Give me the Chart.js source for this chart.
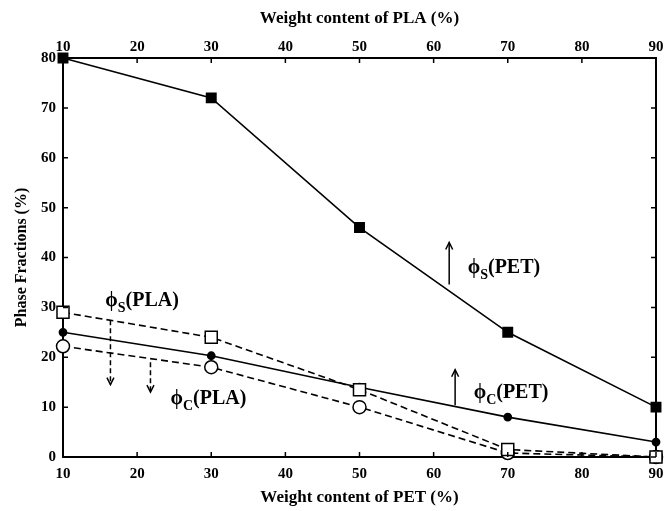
<!DOCTYPE html>
<html><head><meta charset="utf-8">
<script src="https://cdn.jsdelivr.net/npm/chart.js@4/dist/chart.umd.min.js"></script>
<style>html,body{margin:0;padding:0;background:#fff}#wrap{width:666px;height:511px}</style>
</head><body><div id="wrap"><canvas id="c" width="666" height="511"></canvas></div>
<script>
const xValues = [10, 30, 50, 70, 90];
const phiS_PET = [80, 72, 46, 25, 10];
const phiC_PET = [25, 20.3, 14, 8, 3];
const phiS_PLA = [29, 24, 13.5, 1.5, 0];
const phiC_PLA = [22.2, 18, 10, 0.8, 0];
const xTicks = [10, 20, 30, 40, 50, 60, 70, 80, 90];
const yTicks = [0, 10, 20, 30, 40, 50, 60, 70, 80];
// annotation labels: [x, y(baseline), sub, rest]
const labels = [
  [64.6, 36.9, 'S', '(PET)'],
  [65.4, 11.8, 'C', '(PET)'],
  [15.7, 30.3, 'S', '(PLA)'],
  [24.5, 10.7, 'C', '(PLA)']
];
// arrows: [x, yFrom, yTo, dashed]
const arrows = [
  [62.1, 34.6, 43.0, false],
  [62.9, 10.4, 17.5, false],
  [16.4, 27.4, 14.5, true],
  [21.8, 19.0, 13.0, true]
];

const FONT = '"Liberation Serif", "Times New Roman", serif';
const pts = ys => xValues.map((x, i) => ({x, y: ys[i]}));

const annot = {
  id: 'annot',
  afterDraw(chart) {
    const {ctx, scales} = chart;
    const xs = scales.x, ys = scales.y;
    const ca = chart.chartArea;
    ctx.save();
    ctx.strokeStyle = '#000';
    ctx.lineWidth = 1.5;
    const TL = 5;
    xTicks.forEach(v => {
      const px = xs.getPixelForValue(v);
      ctx.beginPath();
      ctx.moveTo(px, ca.bottom); ctx.lineTo(px, ca.bottom - TL);
      ctx.moveTo(px, ca.top); ctx.lineTo(px, ca.top + TL);
      ctx.stroke();
    });
    yTicks.forEach(v => {
      const py = ys.getPixelForValue(v);
      ctx.beginPath();
      ctx.moveTo(ca.left, py); ctx.lineTo(ca.left + TL, py);
      ctx.moveTo(ca.right, py); ctx.lineTo(ca.right - TL, py);
      ctx.stroke();
    });
    arrows.forEach(([x, y0, y1, dashed]) => {
      const px = xs.getPixelForValue(x);
      const p0 = ys.getPixelForValue(y0), p1 = ys.getPixelForValue(y1);
      const dir = p1 < p0 ? -1 : 1;
      ctx.lineWidth = 1.5;
      ctx.setLineDash(dashed ? [5, 3] : []);
      ctx.beginPath(); ctx.moveTo(px, p0); ctx.lineTo(px, p1); ctx.stroke();
      ctx.setLineDash([]);
      ctx.beginPath();
      ctx.moveTo(px - 3.5, p1 - dir * 7); ctx.lineTo(px, p1); ctx.lineTo(px + 3.5, p1 - dir * 7);
      ctx.stroke();
    });
    ctx.fillStyle = '#000';
    ctx.textBaseline = 'alphabetic';
    ctx.textAlign = 'left';
    labels.forEach(([x, y, sub, rest]) => {
      let px = xs.getPixelForValue(x);
      const py = ys.getPixelForValue(y);
      ctx.font = 'bold 20px ' + FONT;
      ctx.fillText('ϕ', px, py);
      px += ctx.measureText('ϕ').width;
      ctx.font = 'bold 14px ' + FONT;
      ctx.fillText(sub, px, py + 6);
      px += ctx.measureText(sub).width;
      ctx.font = 'bold 20px ' + FONT;
      ctx.fillText(rest, px, py);
    });
    ctx.restore();
  }
};

const noPad = s => { s.paddingLeft = 0; s.paddingRight = 0; };

new Chart(document.getElementById('c'), {
  type: 'line',
  data: {
    datasets: [
      {label: 'phiS PLA', data: pts(phiS_PLA), borderColor: '#000', borderWidth: 1.6, borderDash: [7, 4],
       pointStyle: 'rect', pointRadius: 8.5, pointBackgroundColor: '#fff', pointBorderColor: '#000', pointBorderWidth: 1.5, clip: false, tension: 0},
      {label: 'phiC PET', data: pts(phiC_PET), borderColor: '#000', borderWidth: 1.6,
       pointStyle: 'circle', pointRadius: 3.6, pointBackgroundColor: '#000', pointBorderColor: '#000', clip: false, tension: 0},
      {label: 'phiC PLA', data: pts(phiC_PLA), borderColor: '#000', borderWidth: 1.6, borderDash: [7, 4],
       pointStyle: 'circle', pointRadius: 6.5, pointBackgroundColor: '#fff', pointBorderColor: '#000', pointBorderWidth: 1.5, clip: false, tension: 0},
      {label: 'phiS PET', data: pts(phiS_PET), borderColor: '#000', borderWidth: 1.6,
       pointStyle: 'rect', pointRadius: 6.6, pointBackgroundColor: '#000', pointBorderColor: '#000', clip: false, tension: 0}
    ]
  },
  options: {
    responsive: false,
    animation: false,
    events: [],
    plugins: {legend: {display: false}, tooltip: {enabled: false}},
    layout: {padding: 0},
    scales: {
      x: {
        type: 'linear', position: 'bottom', min: 10, max: 90,
        afterBuildTicks: s => { s.ticks = xTicks.map(v => ({value: v})); },
        afterFit: s => { s.height = 54; noPad(s); },
        ticks: {color: '#000', font: {family: FONT, size: 15, weight: 'bold'}, padding: 8, maxRotation: 0},
        grid: {display: false, drawTicks: false},
        border: {display: true, color: '#000', width: 2},
        title: {display: true, text: 'Weight content of PET (%)', color: '#000',
                font: {family: FONT, size: 17, weight: 'bold'}, padding: {top: 0, bottom: 3}}
      },
      x2: {
        type: 'linear', position: 'top', min: 10, max: 90,
        afterBuildTicks: s => { s.ticks = xTicks.map(v => ({value: v})); },
        afterFit: s => { s.height = 58; noPad(s); },
        ticks: {color: '#000', font: {family: FONT, size: 15, weight: 'bold'}, padding: 2, maxRotation: 0},
        grid: {display: false, drawTicks: false},
        border: {display: true, color: '#000', width: 2},
        title: {display: true, text: 'Weight content of PLA (%)', color: '#000',
                font: {family: FONT, size: 17, weight: 'bold'}, padding: {top: 8, bottom: 0}}
      },
      y: {
        type: 'linear', position: 'left', min: 0, max: 80,
        afterBuildTicks: s => { s.ticks = yTicks.map(v => ({value: v})); },
        afterFit: s => { s.width = 63; },
        ticks: {color: '#000', font: {family: FONT, size: 15, weight: 'bold'}, padding: 7},
        grid: {display: false, drawTicks: false},
        border: {display: true, color: '#000', width: 2},
        title: {display: true, text: 'Phase Fractions (%)', color: '#000',
                font: {family: FONT, size: 16, weight: 'bold'}, padding: {top: 12, bottom: 0}}
      },
      y2: {
        type: 'linear', position: 'right', min: 0, max: 80,
        afterFit: s => { s.width = 10; },
        ticks: {display: false},
        grid: {display: false, drawTicks: false},
        border: {display: true, color: '#000', width: 2}
      }
    }
  },
  plugins: [annot]
});
</script>
</body></html>
